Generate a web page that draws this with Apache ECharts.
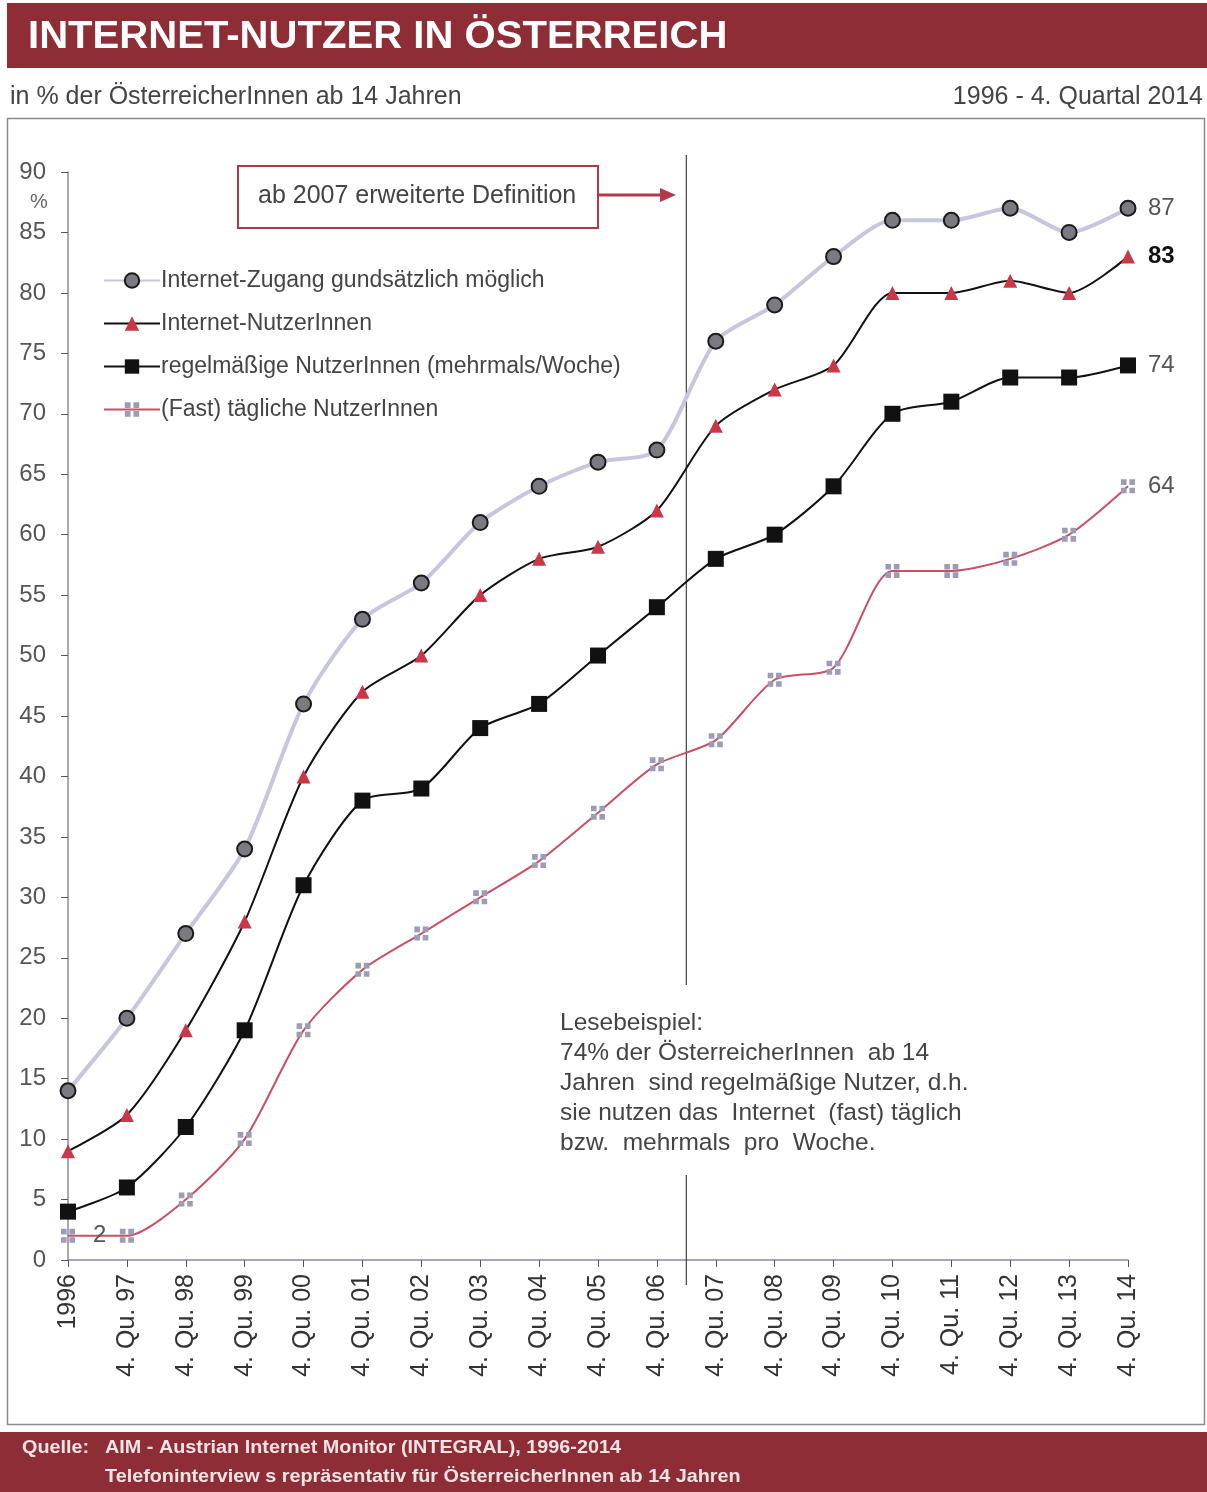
<!DOCTYPE html>
<html>
<head>
<meta charset="utf-8">
<script src="https://cdn.jsdelivr.net/npm/echarts@6/dist/echarts.min.js"></script>
<style>
html,body{margin:0;padding:0;background:#fff;}
#c{width:1207px;height:1492px;}
</style>
</head>
<body>
<div id="c"></div>
<script>
const categories = ['1996','4. Qu. 97','4. Qu. 98','4. Qu. 99','4. Qu. 00','4. Qu. 01','4. Qu. 02','4. Qu. 03','4. Qu. 04','4. Qu. 05','4. Qu. 06','4. Qu. 07','4. Qu. 08','4. Qu. 09','4. Qu. 10','4. Qu. 11','4. Qu. 12','4. Qu. 13','4. Qu. 14'];
const zugang = [14,20,27,34,46,53,56,61,64,66,67,76,79,83,86,86,87,85,87];
const nutzer = [9,12,19,28,40,47,50,55,58,59,62,69,72,74,80,80,81,80,83];
const regelmaessig = [4,6,11,19,31,38,39,44,46,50,54,58,60,64,70,71,73,73,74];
const taeglich = [2,2,5,10,19,24,27,30,33,37,41,43,48,49,57,57,58,60,64];
const seriesNames = ['Internet-Zugang gundsätzlich möglich','Internet-NutzerInnen','regelmäßige NutzerInnen (mehrmals/Woche)','(Fast) tägliche NutzerInnen'];

const FONT = 'Liberation Sans, Arial, sans-serif';
const RED = '#8f2d37';
const chart = echarts.init(document.getElementById('c'));
const crossSym = 'path://M0,0h4v4h-4z M6,0h4v4h-4z M0,6h4v4h-4z M6,6h4v4h-4z';

function endLbl(color, bold){
  return {show:true, formatter:'{c}', distance:20, color:color, fontSize:24, fontFamily:FONT, fontWeight: bold?'bold':'normal'};
}

const option = {
  animation:false,
  backgroundColor:'#fff',
  grid:{left:68, right:79, top:172, bottom:232},
  legend:{
    orient:'vertical', left:98, top:264,
    itemWidth:56, itemHeight:18, itemGap:20,
    textStyle:{fontFamily:FONT, fontSize:23, color:'#444', padding:[0,0,0,-4]},
    data:seriesNames
  },
  xAxis:{
    type:'category', boundaryGap:false, data:categories,
    axisLine:{lineStyle:{color:'#8a88a8', width:1.5}},
    axisTick:{show:true, length:7, lineStyle:{color:'#555'}, alignWithLabel:true},
    axisLabel:{rotate:90, fontFamily:FONT, fontSize:25, color:'#333', margin:14, interval:0}
  },
  yAxis:{
    type:'value', min:0, max:90, interval:5,
    axisLine:{show:true, lineStyle:{color:'#8a88a8', width:1.5}},
    axisTick:{show:true, length:7, lineStyle:{color:'#555'}},
    axisLabel:{fontFamily:FONT, fontSize:24, color:'#555', margin:22},
    splitLine:{show:false}
  },
  series:[
    {name:seriesNames[0], type:'line', data:zugang, smooth:0.25,
     symbol:'circle', symbolSize:15,
     lineStyle:{color:'#c6c6de', width:4},
     itemStyle:{color:'#7a7a82', borderColor:'#1a1a1a', borderWidth:2},
     endLabel:endLbl('#555', false), z:2},
    {name:seriesNames[1], type:'line', data:nutzer, smooth:0.25,
     symbol:'triangle', symbolSize:14,
     lineStyle:{color:'#111', width:2},
     itemStyle:{color:'#c83848', borderWidth:0},
     endLabel:endLbl('#111', true), z:3},
    {name:seriesNames[2], type:'line', data:regelmaessig, smooth:0.25,
     symbol:'rect', symbolSize:16,
     lineStyle:{color:'#111', width:2},
     itemStyle:{color:'#111', borderWidth:0},
     endLabel:endLbl('#555', false), z:4},
    {name:seriesNames[3], type:'line', smooth:0.25,
     data:taeglich.map((v,i)=> i===0 ? {value:v, label:{show:true, position:'right', distance:18, formatter:'{c}', fontFamily:FONT, fontSize:24, color:'#555'}} : v),
     symbol:crossSym, symbolSize:14,
     lineStyle:{color:'#c85064', width:2},
     itemStyle:{color:'#9c9cb4', borderWidth:0},
     endLabel:endLbl('#555', false), z:5}
  ]
};
chart.setOption(option);

const x06 = chart.convertToPixel({xAxisIndex:0}, 10);
const x07 = chart.convertToPixel({xAxisIndex:0}, 11);
const xd = (x06 + x07) / 2;

chart.setOption({
  graphic:[
    {type:'rect', shape:{x:7, y:3, width:1200, height:65}, style:{fill:RED}, z:0},
    {type:'text', x:28, y:19, scaleX:1.055, style:{text:'INTERNET-NUTZER IN ÖSTERREICH', fill:'#fff', font:'bold 38px '+FONT}},
    {type:'text', left:10, top:85, style:{text:'in % der ÖsterreicherInnen ab 14 Jahren', fill:'#444', font:'25px '+FONT}},
    {type:'text', right:4, top:85, style:{text:'1996 - 4. Quartal 2014', fill:'#444', font:'25px '+FONT, textAlign:'right'}},
    {type:'rect', shape:{x:7.5, y:118.5, width:1197, height:1306}, style:{fill:null, stroke:'#8a8a96', lineWidth:1.5}, z:-1, silent:true},
    {type:'rect', shape:{x:0, y:1432, width:1207, height:60}, style:{fill:RED}},
    {type:'text', x:22, y:1439, scaleX:1.1, style:{text:'Quelle:', fill:'#f4e4e4', font:'bold 18px '+FONT}},
    {type:'text', x:105, y:1439, scaleX:1.1, style:{text:'AIM - Austrian Internet Monitor (INTEGRAL), 1996-2014', fill:'#f4e4e4', font:'bold 18px '+FONT}},
    {type:'text', x:105, y:1468, scaleX:1.1, style:{text:'Telefoninterview s repräsentativ für ÖsterreicherInnen ab 14 Jahren', fill:'#f4e4e4', font:'bold 18px '+FONT}},
    {type:'text', left:30, top:192, style:{text:'%', fill:'#666', font:'20px '+FONT}},
    {type:'rect', shape:{x:238, y:166, width:360, height:62}, style:{fill:'#fff', stroke:'#b3384a', lineWidth:2}},
    {type:'text', left:258, top:184, style:{text:'ab 2007 erweiterte Definition', fill:'#444', font:'25px '+FONT}},
    {type:'line', shape:{x1:598, y1:195, x2:662, y2:195}, style:{stroke:'#b3384a', lineWidth:3}},
    {type:'polygon', shape:{points:[[676,195],[660,188],[660,202]]}, style:{fill:'#b3384a'}},
    {type:'line', shape:{x1:xd, y1:155, x2:xd, y2:985}, style:{stroke:'#444', lineWidth:1.2}, z:1},
    {type:'line', shape:{x1:xd, y1:1175, x2:xd, y2:1285}, style:{stroke:'#444', lineWidth:1.2}, z:1},
    {type:'text', left:560, top:1008, style:{text:'Lesebeispiel:\n74% der ÖsterreicherInnen  ab 14\nJahren  sind regelmäßige Nutzer, d.h.\nsie nutzen das  Internet  (fast) täglich\nbzw.  mehrmals  pro  Woche.', fill:'#444', font:'24.5px '+FONT, lineHeight:30}}
  ]
});
</script>
</body>
</html>
